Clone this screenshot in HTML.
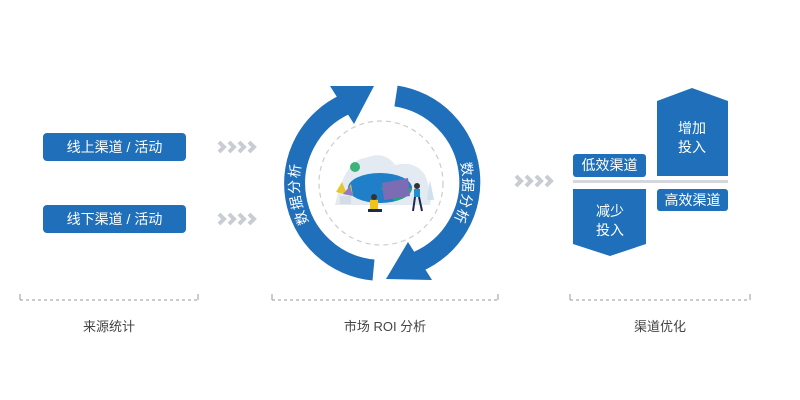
<!DOCTYPE html>
<html><head><meta charset="utf-8"><style>
body{margin:0;background:#fff;font-family:"Liberation Sans","Noto Sans CJK SC",sans-serif;}
.w{position:relative;width:800px;height:400px;overflow:hidden}
.btn{position:absolute;left:43px;width:143px;height:28px;background:#1f6fba;border-radius:4px;color:#fff;font-size:14px;line-height:28px;text-align:center}
.lbl{position:absolute;top:316px;font-size:13px;color:#444;text-align:center}
.box{position:absolute;background:#1f6fba;color:#fff;font-size:14px;text-align:center;border-radius:3px}
</style></head><body><div class="w">
<div class="btn" style="top:133px">线上渠道 / 活动</div>
<div class="btn" style="top:205px">线下渠道 / 活动</div>
<svg width="800" height="400" style="position:absolute;left:0;top:0">
<defs>
<path id="pl" d="M305.7 226.5 A87 87 0 0 1 305.7 139.5"/>
<path id="pr" d="M456.3 139.5 A87 87 0 0 1 456.3 226.5"/>
</defs>
<g fill="none" stroke="#c9ccd2" stroke-width="4">
<path d="M219 142l5 5-5 5M229 142l5 5-5 5M239 142l5 5-5 5M249 142l5 5-5 5"/>
<path d="M219 214l5 5-5 5M229 214l5 5-5 5M239 214l5 5-5 5M249 214l5 5-5 5"/>
<path d="M516 176l5 5-5 5M526 176l5 5-5 5M536 176l5 5-5 5M546 176l5 5-5 5"/>
</g>
<g stroke="#999" stroke-width="1" stroke-dasharray="3,3" fill="none">
<path d="M20 300H198M272 300H498M570 300H750"/>
</g>
<g stroke="#999" stroke-width="1"><path d="M20 294v6M198 294v6M272 294v6M498 294v6M570 294v6M750 294v6"/></g>
<circle cx="381" cy="183" r="62" fill="none" stroke="#ccc" stroke-width="1.2" stroke-dasharray="5,4"/>
<path d="M373.5 270 A87 87 0 0 1 346 104" fill="none" stroke="#1f6fba" stroke-width="21"/>
<polygon points="354,124 330,86 374,86" fill="#1f6fba"/>
<path d="M396 96 A87 87 0 0 1 417 262" fill="none" stroke="#1f6fba" stroke-width="21"/>
<polygon points="408,242 432,280 386,279" fill="#1f6fba"/>
<text fill="#fff" font-size="14" dominant-baseline="central" letter-spacing="2"><textPath href="#pl" startOffset="38%" text-anchor="middle">数据分析</textPath></text>
<text fill="#fff" font-size="14" dominant-baseline="central" letter-spacing="2"><textPath href="#pr" startOffset="62%" text-anchor="middle">数据分析</textPath></text>
<path d="M335 205 Q345 160 365 158 Q385 150 395 165 Q415 160 425 175 Q433 195 430 205Z" fill="#e3eaf1"/>
<ellipse cx="380" cy="188" rx="32" ry="15" fill="#1f7fc9"/>
<path d="M380 188 L412 188 A32 15 0 0 1 395 201Z" fill="#21a57a"/>
<polygon points="382,183 408,178 410,196 384,200" fill="#7b6cb4"/>
<circle cx="355" cy="167" r="5" fill="#3bb37b"/>
<path d="M336 192l6-10 4 10 5-8 2 12z" fill="#e8c52a"/>
<path d="M343 194l7-8 3 10z" fill="#8f7bbf"/>
<rect x="340" y="196" width="11" height="8" fill="#d5dbe4"/>
<circle cx="374" cy="197" r="3" fill="#333"/><rect x="370" y="200" width="8" height="9" fill="#f0c419"/><rect x="368" y="209" width="14" height="3" fill="#1d2a4a"/>
<circle cx="417" cy="186" r="3" fill="#333"/><rect x="414" y="189" width="6" height="8" fill="#1f8fd0"/><path d="M415 197l-2 14M419 197l3 14" stroke="#1d2a4a" stroke-width="2"/>
<path d="M427 200 L430 180 L434 200Z" fill="#cfe1ef"/>
<polygon points="657,101 692,88 728,101 728,176 657,176" fill="#1f6fba"/>
<polygon points="573,189 646,189 646,244 610,256 573,244" fill="#1f6fba"/>
<rect x="573" y="180" width="155" height="3" fill="#d4d7dc"/>
<text x="692" y="133" fill="#fff" font-size="14" text-anchor="middle">增加</text>
<text x="692" y="152" fill="#fff" font-size="14" text-anchor="middle">投入</text>
<text x="610" y="216" fill="#fff" font-size="14" text-anchor="middle">减少</text>
<text x="610" y="235" fill="#fff" font-size="14" text-anchor="middle">投入</text>
</svg>
<div class="box" style="left:573px;top:154px;width:73px;height:23px;line-height:23px">低效渠道</div>
<div class="box" style="left:657px;top:189px;width:71px;height:22px;line-height:22px">高效渠道</div>
<div class="lbl" style="left:20px;width:178px">来源统计</div>
<div class="lbl" style="left:272px;width:226px">市场 ROI 分析</div>
<div class="lbl" style="left:570px;width:180px">渠道优化</div>
</div></body></html>
